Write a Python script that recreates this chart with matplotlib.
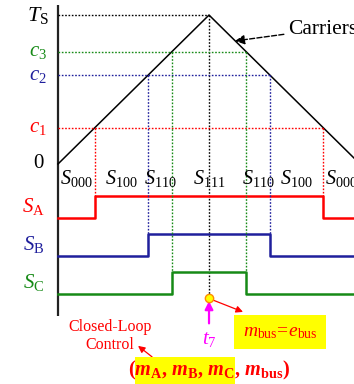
import matplotlib
matplotlib.use("Agg")
import matplotlib.pyplot as plt
from matplotlib.patches import Rectangle
import numpy as np

plt.rcParams["font.family"] = ["Liberation Serif", "DejaVu Serif"]
plt.rcParams["mathtext.fontset"] = "custom"
plt.rcParams["mathtext.rm"] = "Liberation Serif"
plt.rcParams["mathtext.it"] = "Liberation Serif:italic"
plt.rcParams["mathtext.bf"] = "Liberation Serif:bold"
plt.rcParams["mathtext.bfit"] = "Liberation Serif:bold:italic"

# Carrier: one symmetric triangle over a switching period (time in half-periods)
carrier_t = [0.0, 1.0, 2.0]
carrier_v = [0.0, 1.0, 0.0]
Ts = 1.0

# Compare levels for the three phases
level_names = ["c_1", "c_2", "c_3"]
levels = [0.242, 0.597, 0.752]
phase_names = ["A", "B", "C"]

# Switching-state labels along the period
state_labels = ["000", "100", "110", "111", "110", "100", "000"]

RED, BLUE, GREEN = "#ff0000", "#1f1f9c", "#168a16"
colors = [RED, BLUE, GREEN]

fig = plt.figure(figsize=(3.54, 3.84), dpi=100)
ax = fig.add_axes([0, 0, 1, 1])
ax.set_xlim(-0.384, 1.960)
ax.set_ylim(-1.477, 1.101)
ax.axis("off")

# vertical axis
ax.plot([0, 0], [-1.02, 1.067], color="#222222", lw=1.6, solid_capstyle="butt")

# carrier
ax.plot(carrier_t, carrier_v, color="black", lw=1.1)

# Ts line and peak marker line
ax.plot([0, 1], [Ts, Ts], color="black", lw=1.0, ls=(0, (1.2, 1.2)))
ax.plot([1, 1], [Ts, -0.90], color="black", lw=1.0, ls=(0, (1.2, 1.2)))

# signal rows: baseline and height of each gate pulse
row_low = [-0.362, -0.617, -0.872]
row_h = 0.150

for name, c, col, ph, low in zip(level_names, levels, colors, phase_names, row_low):
    t_on, t_off = c, 2 - c
    # compare level
    ax.plot([0, t_off], [c, c], color=col, lw=1.0, ls=(0, (1.2, 1.2)))
    # crossings down to pulse top
    for tt in (t_on, t_off):
        ax.plot([tt, tt], [c, low + row_h], color=col, lw=1.0, ls=(0, (1.2, 1.2)))
    # gate pulse
    xs = [0, t_on, t_on, t_off, t_off, 2.0]
    ys = [low, low, low + row_h, low + row_h, low, low]
    ax.plot(xs, ys, color=col, lw=1.8)
    # labels
    ax.text(-0.13, c, rf"${name[0]}_{name[2]}$", color=col, fontsize=15,
            ha="center", va="center")
    ax.text(-0.16, low + row_h / 2, rf"$S_\mathrm{{{ph}}}$", color=col,
            fontsize=15, ha="center", va="center")

ax.text(-0.13, Ts, r"$T_\mathrm{S}$", color="black", fontsize=16,
        ha="center", va="center")
ax.text(-0.13, 0.0, "0", color="black", fontsize=15, ha="center", va="center")

# state labels centred in each interval between crossings
edges = [0.0] + sorted(levels) + [2 - c for c in sorted(levels, reverse=True)] + [2.0]
for k, lab in enumerate(state_labels):
    mid = (edges[k] + edges[k + 1]) / 2
    ax.text(mid, -0.10, rf"$S_{{{lab}}}$", fontsize=14.5, ha="center",
            va="center", color="black")

# Carriers annotation
ax.annotate("Carriers", xy=(1.172, 0.826), xytext=(1.523, 0.906),
            fontsize=15.5, va="center", ha="left",
            arrowprops=dict(arrowstyle="-|>", color="black", lw=1.0,
                            ls="--", mutation_scale=14, shrinkA=1, shrinkB=0))

# sampling instant t7
ax.plot([1.0], [-0.90], marker="o", ms=6, mfc="#ffff00", mec="#ff8c00",
        mew=1.0, zorder=5)
ax.annotate("", xy=(1.0, -0.92), xytext=(1.0, -1.07),
            arrowprops=dict(arrowstyle="-|>", color="#ff00ff", lw=1.6,
                            mutation_scale=12, shrinkA=0, shrinkB=0))
ax.text(1.0, -1.18, r"$t_7$", color="#ff00ff", fontsize=15,
        ha="center", va="center")

ax.annotate("", xy=(1.225, -0.993), xytext=(1.025, -0.913),
            arrowprops=dict(arrowstyle="-|>", color=RED, lw=0.9,
                            mutation_scale=10, shrinkA=0, shrinkB=0))
ax.text(1.47, -1.128, r"$m_\mathrm{bus}\!=\!e_\mathrm{bus}$", color=RED,
        fontsize=14, ha="center", va="center",
        bbox=dict(facecolor="#ffff00", edgecolor="none", pad=6))

ax.text(0.344, -1.154, "Closed-Loop\nControl", color=RED, fontsize=11.5,
        ha="center", va="center", linespacing=1.15)
ax.annotate("", xy=(0.530, -1.221), xytext=(0.623, -1.295),
            arrowprops=dict(arrowstyle="-|>", color=RED, lw=0.9,
                            mutation_scale=10, shrinkA=0, shrinkB=0))

# control variable tuple with highlighted phase terms
tup_x, tup_y = 0.464, -1.389
tup_kw = dict(color=RED, fontsize=14.6, fontweight="bold", ha="left",
              va="center")
full = (r"($\mathbfit{m}_\mathbf{A}$, $\mathbfit{m}_\mathbf{B}$, "
        r"$\mathbfit{m}_\mathbf{C}$, $\mathbfit{m}_\mathbf{bus}$)")
pre1 = "("
pre2 = (r"($\mathbfit{m}_\mathbf{A}$, $\mathbfit{m}_\mathbf{B}$, "
        r"$\mathbfit{m}_\mathbf{C}$")
t_full = ax.text(tup_x, tup_y, full, zorder=6, **tup_kw)
fig.canvas.draw()
r = fig.canvas.get_renderer()
x0 = t_full.get_window_extent(r).x0
widths = []
for s in (pre1, pre2):
    tmp = ax.text(tup_x, tup_y, s, **tup_kw)
    widths.append(tmp.get_window_extent(r).width)
    tmp.remove()
inv = ax.transData.inverted()
bb = t_full.get_window_extent(r)
(xa, ya) = inv.transform((x0 + widths[0], bb.y0 - 2))
(xb, yb) = inv.transform((x0 + widths[1], bb.y1 + 2))
ax.add_patch(Rectangle((xa, ya), xb - xa, yb - ya, facecolor="#ffff00",
                       edgecolor="none", zorder=4))

fig.savefig("out.png", dpi=100)
